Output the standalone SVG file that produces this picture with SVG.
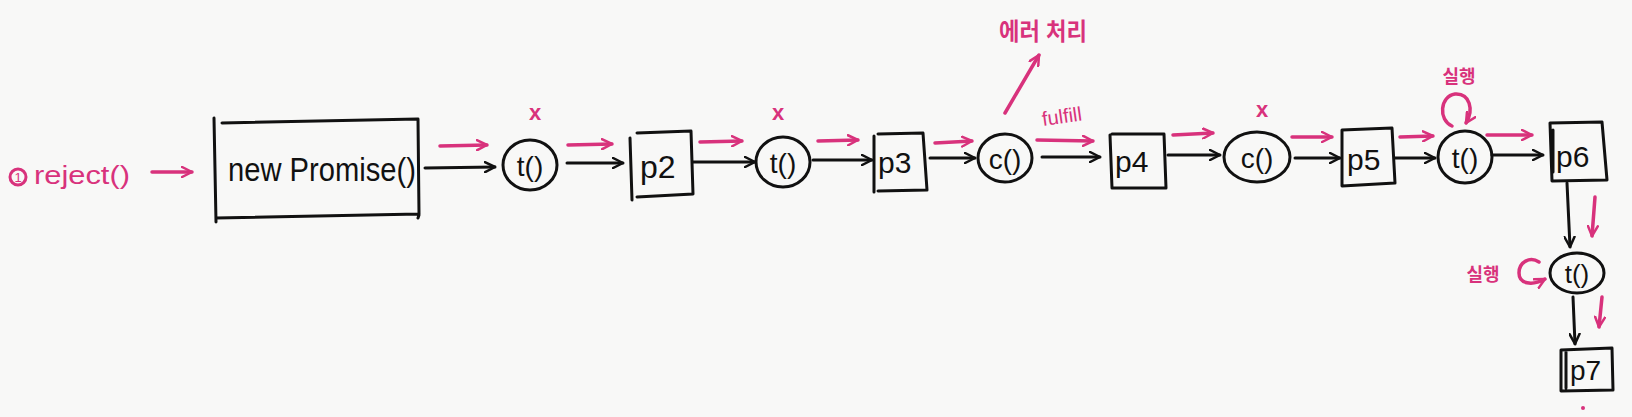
<svg xmlns="http://www.w3.org/2000/svg" width="1632" height="417" viewBox="0 0 1632 417">
<defs>
<style>
.bk{fill:none;stroke:#111;stroke-width:3;stroke-linecap:round;stroke-linejoin:round}
.pk{fill:none;stroke:#d8327c;stroke-width:3;stroke-linecap:round;stroke-linejoin:round}
.ab{fill:none;stroke:#111;stroke-width:3;stroke-linecap:round;marker-end:url(#mb)}
.ap{fill:none;stroke:#d8327c;stroke-width:3.5;stroke-linecap:round;marker-end:url(#mp)}
.t{font-family:"Liberation Sans","Noto Sans",sans-serif;fill:#111}
.tp{font-family:"Liberation Sans","Noto Sans CJK KR",sans-serif;fill:#d8327c}
.x{font-family:"Liberation Sans",sans-serif;fill:#d8327c;font-size:22px;font-weight:bold;text-anchor:middle}
</style>
<marker id="mb" viewBox="0 0 12 12" refX="11" refY="6" markerWidth="12" markerHeight="12" markerUnits="userSpaceOnUse" orient="auto">
<path d="M1,1 L11,6 L1,11" fill="none" stroke="#111" stroke-width="2.5" stroke-linecap="round" stroke-linejoin="round"/>
</marker>
<marker id="mp" viewBox="0 0 12 12" refX="11" refY="6" markerWidth="12" markerHeight="12" markerUnits="userSpaceOnUse" orient="auto">
<path d="M1,1 L11,6 L1,11" fill="none" stroke="#d8327c" stroke-width="2.5" stroke-linecap="round" stroke-linejoin="round"/>
</marker>
</defs>
<rect width="1632" height="417" fill="#f8f8f7"/>

<g id="start">
<circle cx="18" cy="177" r="8" class="pk" stroke-width="2.5"/>
<text x="18" y="182" class="tp" font-size="13" text-anchor="middle">1</text>
<text x="34" y="184" class="tp" font-size="25" textLength="96" lengthAdjust="spacingAndGlyphs">reject()</text>
</g>

<g id="n-promise">
<path class="bk" d="M214,118 L216,222 M222,123 L418,119 L419,214 L216,218 M419,215 L418,218"/>
<text x="228" y="181" class="t" font-size="34" textLength="188" lengthAdjust="spacingAndGlyphs">new Promise()</text>
</g>

<g id="n-t1">
<ellipse cx="530" cy="165" rx="27" ry="25" class="bk"/>
<text x="530" y="176" class="t" font-size="28" text-anchor="middle">t()</text>
<text x="535" y="120" class="x">x</text>
</g>

<g id="n-p2">
<path class="bk" d="M630,138 L632,200 M637,133 L691,131 L693,194 L637,197"/>
<text x="640" y="178" class="t" font-size="32">p2</text>
</g>

<g id="n-t2">
<ellipse cx="783" cy="162" rx="27" ry="25" class="bk"/>
<text x="783" y="173" class="t" font-size="28" text-anchor="middle">t()</text>
<text x="778" y="120" class="x">x</text>
</g>

<g id="n-p3">
<path class="bk" d="M874,136 L874,192 M878,134 L923,133 L927,190 L878,191"/>
<text x="878" y="173" class="t" font-size="30">p3</text>
</g>

<g id="n-c1">
<ellipse cx="1005" cy="158" rx="27" ry="24" class="bk"/>
<text x="1005" y="169" class="t" font-size="28" text-anchor="middle">c()</text>
</g>

<g id="n-p4">
<path class="bk" d="M1110,135 L1112,188 M1112,134 L1164,134 L1166,188 L1112,188"/>
<text x="1115" y="172" class="t" font-size="30">p4</text>
</g>

<g id="n-c2">
<ellipse cx="1257" cy="157" rx="33" ry="25" class="bk"/>
<text x="1257" y="168" class="t" font-size="28" text-anchor="middle">c()</text>
<text x="1262" y="117" class="x">x</text>
</g>

<g id="n-p5">
<path class="bk" d="M1342,130 L1392,128 L1395,183 L1342,186 Z"/>
<text x="1347" y="170" class="t" font-size="30">p5</text>
</g>

<g id="n-t3">
<ellipse cx="1465" cy="157" rx="27" ry="26" class="bk"/>
<text x="1465" y="168" class="t" font-size="28" text-anchor="middle">t()</text>
</g>

<g id="n-p6">
<path class="bk" d="M1550,123 L1602,122 L1607,180 L1552,181 Z M1553,130 L1553,172"/>
<text x="1556" y="167" class="t" font-size="30">p6</text>
</g>

<g id="n-t4">
<ellipse cx="1577" cy="273" rx="27" ry="20" class="bk"/>
<text x="1577" y="283" class="t" font-size="26" text-anchor="middle">t()</text>
</g>

<g id="n-p7">
<path class="bk" d="M1561,350 L1612,348 L1613,390 L1561,391 Z M1566,352 L1566,388"/>
<text x="1570" y="380" class="t" font-size="28">p7</text>
</g>

<g id="connectors">
<line x1="152" y1="172" x2="192" y2="172" class="ap"/>
<line x1="425" y1="168" x2="495" y2="167" class="ab"/>
<line x1="440" y1="146" x2="487" y2="145" class="ap"/>
<line x1="567" y1="163" x2="623" y2="163" class="ab"/>
<line x1="568" y1="145" x2="612" y2="144" class="ap"/>
<line x1="693" y1="162" x2="755" y2="162" class="ab"/>
<line x1="700" y1="142" x2="742" y2="141" class="ap"/>
<line x1="813" y1="160" x2="872" y2="160" class="ab"/>
<line x1="818" y1="141" x2="858" y2="140" class="ap"/>
<line x1="930" y1="158" x2="975" y2="158" class="ab"/>
<line x1="935" y1="143" x2="972" y2="141" class="ap"/>
<line x1="1005" y1="113" x2="1039" y2="55" class="ap"/>
<line x1="1042" y1="157" x2="1100" y2="157" class="ab"/>
<line x1="1037" y1="140" x2="1093" y2="141" class="ap"/>
<line x1="1168" y1="155" x2="1220" y2="155" class="ab"/>
<line x1="1173" y1="135" x2="1213" y2="133" class="ap"/>
<line x1="1295" y1="158" x2="1340" y2="158" class="ab"/>
<line x1="1292" y1="137" x2="1332" y2="137" class="ap"/>
<line x1="1395" y1="158" x2="1435" y2="158" class="ab"/>
<line x1="1400" y1="137" x2="1433" y2="136" class="ap"/>
<path d="M1452,126 C1438,120 1440,96 1455,94 C1470,93 1474,110 1466,123" class="ap"/>
<line x1="1492" y1="155" x2="1543" y2="155" class="ab"/>
<line x1="1487" y1="135" x2="1532" y2="135" class="ap"/>
<line x1="1567" y1="183" x2="1570" y2="247" class="ab"/>
<line x1="1595" y1="197" x2="1592" y2="236" class="ap"/>
<path d="M1539,262 C1530,256 1519,262 1519,273 C1519,284 1532,286 1545,279" class="ap"/>
<line x1="1573" y1="297" x2="1575" y2="344" class="ab"/>
<line x1="1602" y1="297" x2="1599" y2="327" class="ap"/>
</g>

<g id="labels">
<text x="1043" y="40" class="tp" font-size="24" font-weight="bold" textLength="88" lengthAdjust="spacingAndGlyphs" text-anchor="middle">에러 처리</text>
<text x="1043" y="126" class="tp" font-size="20" transform="rotate(-8 1043 126)">fulfill</text>
<text x="1459" y="83" class="tp" font-size="18" font-weight="bold" text-anchor="middle">실행</text>
<text x="1483" y="281" class="tp" font-size="18" font-weight="bold" text-anchor="middle">실행</text>
<circle cx="1583" cy="408" r="2" fill="#d8327c"/>
</g>
</svg>
